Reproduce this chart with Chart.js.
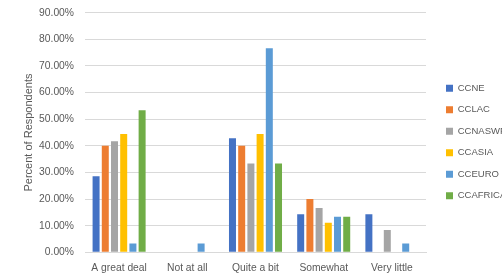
<!DOCTYPE html>
<html><head><meta charset="utf-8">
<script src="https://cdn.jsdelivr.net/npm/chart.js@4/dist/chart.umd.min.js"></script>
<style>html,body{margin:0;padding:0;background:#fff;overflow:hidden;width:502px;height:278px}</style></head>
<body><canvas id="c" width="502" height="278" style="display:block"></canvas>
<script>
const categories = ["A great deal","Not at all","Quite a bit","Somewhat","Very little"];
const seriesNames = ["CCNE","CCLAC","CCNASWP","CCASIA","CCEURO","CCAFRICA"];
const CCNE     = [28.57, 0, 42.86, 14.29, 14.29];
const CCLAC    = [40.00, 0, 40.00, 20.00, 0];
const CCNASWP  = [41.67, 0, 33.33, 16.67, 8.33];
const CCASIA   = [44.44, 0, 44.44, 11.11, 0];
const CCEURO   = [3.33, 3.33, 76.67, 13.33, 3.33];
const CCAFRICA = [53.33, 0, 33.33, 13.33, 0];
const yTicks = [0,10,20,30,40,50,60,70,80,90];
const colors = ["#4472C4","#ED7D31","#A5A5A5","#FFC000","#5B9BD5","#70AD47"];
const values = [CCNE, CCLAC, CCNASWP, CCASIA, CCEURO, CCAFRICA];
const LEGEND_W = 76, LEGEND_SHIFT = 8, LEGEND_UP = 1.5;
const legendFix = {
  id:'legendFix',
  afterInit(chart){
    const lg = chart.legend;
    const orig = lg.fit;
    lg.fit = function(){ orig.call(this); this.width = LEGEND_W; };
  },
  afterLayout(chart){
    const lg = chart.legend;
    lg.left += LEGEND_SHIFT; lg.right += LEGEND_SHIFT;
    lg.top -= LEGEND_UP; lg.bottom -= LEGEND_UP;
  }
};
Chart.defaults.font.family = "'Liberation Sans', Arial, sans-serif";
Chart.defaults.color = "#595959";
new Chart(document.getElementById('c'), {
  type: 'bar',
  data: {
    labels: categories,
    datasets: seriesNames.map((n,i)=>({label:n, data:values[i], backgroundColor:colors[i], borderWidth:0,
      categoryPercentage:0.81, barPercentage:0.76}))
  },
  plugins:[legendFix],
  options: {
    responsive:false, animation:false,
    layout:{padding:{left:22,top:12.7,right:0,bottom:3.7}},
    plugins:{
      legend:{position:'right', align:'center',
        labels:{boxWidth:7, boxHeight:7, padding:12, font:{size:9.5}, color:'#595959'}},
      tooltip:{enabled:false}
    },
    scales:{
      x:{grid:{display:false, drawTicks:false}, border:{display:true,color:'#d9d9d9'},
         ticks:{font:{size:10.3}, color:'#595959', padding:10},
         afterFit:(s)=>{ s.paddingLeft = 0; s.paddingRight = 0; s.height = 22; }},
      y:{min:0, max:90, afterBuildTicks:(ax)=>{ax.ticks = yTicks.map(v=>({value:v}));},
         grid:{color:'#d9d9d9', drawTicks:false}, border:{display:false},
         ticks:{font:{size:10.3}, color:'#595959', padding:11, callback:v=>v.toFixed(2)+'%'},
         afterFit:(s)=>{ s.paddingTop = 0; s.paddingBottom = 0; s.width = 63; },
         title:{display:true, text:'Percent of Respondents', font:{size:11}, color:'#595959', padding:{top:0,bottom:4}}}
    }
  }
});
</script></body></html>
